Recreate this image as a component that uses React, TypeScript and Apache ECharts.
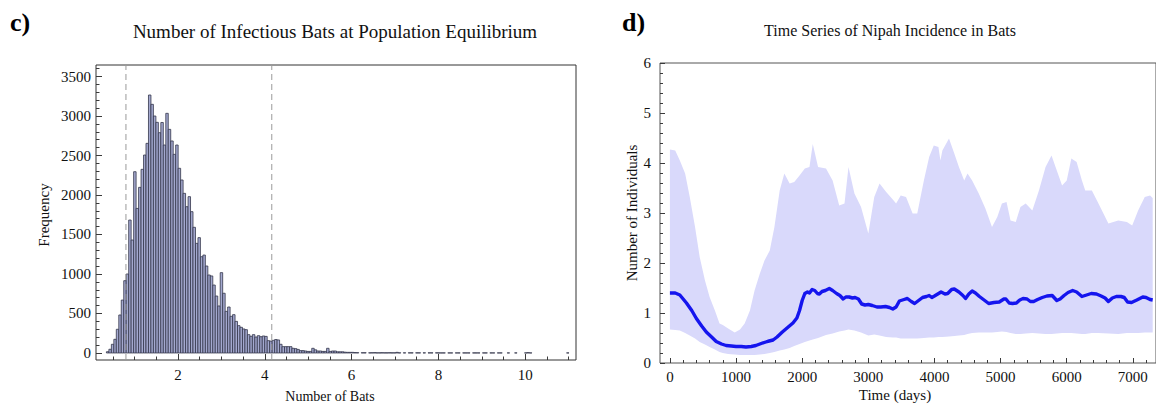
import React, { useEffect, useRef } from "react";
import * as echarts from "echarts";

// ---------- Panel c) histogram ----------
const histStart = 0.35;
const histBinWidth = 0.057;
const histCounts = [
  16, 47, 110, 173, 300, 481, 670, 915, 1000, 1683, 1430, 2295, 1830, 2097, 2325, 2506, 2654, 3266, 3148, 3000,
  2920, 2789, 2918, 2633, 3034, 2831, 2684, 2515, 2633, 2338, 2190, 2021, 1852, 1979, 1789, 1591, 1388, 1460, 1219, 1240,
  1101, 987, 975, 860, 721, 595, 1017, 756, 527, 582, 464, 485, 400, 346, 325, 304, 295, 232, 211, 232,
  202, 219, 206, 215, 210, 156, 150, 160, 170, 165, 110, 80, 80, 80, 80, 59, 55, 45, 30, 30,
  25, 20, 20, 59, 40, 25, 25, 20, 20, 59, 20, 25, 25, 15, 15, 15, 10, 8, 8, 8,
  5, 4, 0, 3, 3, 0, 2, 3, 4, 2, 2, 3, 2, 2, 3, 2, 2, 8, 2, 0,
  2, 0, 2, 2, 0, 2, 2, 0, 2, 0, 2, 2, 0, 2, 1, 1, 1, 0, 1, 1,
  0, 1, 1, 0, 1, 1, 1, 0, 1, 1, 1, 0, 1, 1, 0, 1, 1, 0, 1, 1,
  0, 0, 1, 0, 0, 1, 0, 0, 0, 1, 4, 1, 0, 0, 0, 0, 0, 0, 0, 0,
  0, 0, 0, 0, 0, 0, 1,
];
const cutoffLines = [0.8, 4.16];
const histXMajor = [2, 4, 6, 8, 10];
const histXMinor = [0.5, 1, 1.5, 2.5, 3, 3.5, 4.5, 5, 5.5, 6.5, 7, 7.5, 8.5, 9, 9.5, 10.5, 11];
const histYMajor = [0, 500, 1000, 1500, 2000, 2500, 3000, 3500];
const histYMinor = [
  100, 200, 300, 400, 600, 700, 800, 900, 1100, 1200, 1300, 1400, 1600, 1700, 1800, 1900, 2100, 2200, 2300, 2400,
  2600, 2700, 2800, 2900, 3100, 3200, 3300, 3400, 3600,
];

// ---------- Panel d) time series ----------
const bandDays = [
  0, 80, 150, 230, 300, 380, 450, 530, 600, 680, 750, 800, 880, 980, 1060, 1130, 1210, 1280, 1360, 1430,
  1510, 1580, 1660, 1730, 1810, 1880, 1960, 2040, 2110, 2160, 2240, 2360, 2460, 2560, 2640, 2700, 2790, 2890, 3000, 3090,
  3170, 3270, 3370, 3420, 3490, 3570, 3670, 3740, 3840, 3920, 3990, 4060, 4090, 4120, 4220, 4300, 4370, 4450, 4500, 4570,
  4670, 4770, 4870, 4950, 5020, 5090, 5150, 5230, 5300, 5380, 5480, 5580, 5680, 5770, 5850, 5930, 6000, 6070, 6150, 6230,
  6280, 6380, 6480, 6630, 6780, 6910, 6990, 7080, 7180, 7260, 7300,
];
const bandUpper = [
  4.27, 4.25, 4.05, 3.79, 3.32, 2.72, 2.12, 1.65, 1.32, 1.05, 0.79, 0.76, 0.69, 0.61, 0.67, 0.79, 1.05, 1.45, 1.79, 2.05,
  2.25, 2.72, 3.45, 3.79, 3.59, 3.62, 3.75, 3.89, 3.92, 4.38, 3.92, 3.89, 3.65, 3.15, 3.19, 3.92, 3.39, 3.12, 2.59, 3.32,
  3.59, 3.42, 3.27, 3.19, 3.35, 3.32, 2.99, 2.99, 3.65, 4.12, 4.35, 4.32, 4.05, 4.25, 4.49, 4.19, 3.92, 3.65, 3.79, 3.65,
  3.39, 3.09, 2.72, 2.92, 3.19, 3.22, 2.85, 2.82, 3.12, 3.19, 3.05, 3.45, 3.92, 4.15, 3.85, 3.55, 3.65, 4.09, 4.02, 3.65,
  3.45, 3.45, 3.19, 2.79, 2.85, 2.82, 2.75, 3.05, 3.32, 3.35, 3.3,
];
const bandLower = [
  0.67, 0.66, 0.65, 0.6, 0.55, 0.49, 0.42, 0.37, 0.32, 0.27, 0.22, 0.2, 0.18, 0.17, 0.16, 0.16, 0.16, 0.16, 0.17, 0.18,
  0.2, 0.22, 0.25, 0.27, 0.3, 0.34, 0.38, 0.42, 0.45, 0.47, 0.5, 0.56, 0.59, 0.63, 0.65, 0.67, 0.65, 0.61, 0.55, 0.57,
  0.55, 0.52, 0.51, 0.51, 0.49, 0.49, 0.49, 0.49, 0.5, 0.51, 0.51, 0.52, 0.52, 0.52, 0.53, 0.54, 0.55, 0.56, 0.58, 0.6,
  0.61, 0.61, 0.61, 0.62, 0.63, 0.62, 0.6, 0.58, 0.58, 0.59, 0.6, 0.59, 0.58, 0.58, 0.59, 0.6, 0.6, 0.6, 0.59, 0.58,
  0.58, 0.6, 0.6, 0.59, 0.58, 0.6, 0.6, 0.6, 0.61, 0.61, 0.61,
];
const meanDays = [
  0, 80, 150, 250, 330, 400, 480, 550, 630, 700, 780, 850, 930, 1000, 1080, 1150, 1230, 1300, 1380, 1450,
  1500, 1560, 1620, 1700, 1780, 1860, 1920, 1960, 2000, 2040, 2080, 2110, 2150, 2190, 2230, 2260, 2300, 2350, 2410, 2460,
  2520, 2570, 2620, 2660, 2710, 2760, 2800, 2850, 2900, 2950, 3000, 3060, 3130, 3190, 3260, 3320, 3370, 3420, 3470, 3540,
  3590, 3650, 3700, 3760, 3820, 3880, 3920, 3960, 4000, 4050, 4100, 4160, 4200, 4260, 4300, 4370, 4430, 4470, 4520, 4570,
  4620, 4680, 4750, 4820, 4900, 4980, 5050, 5080, 5130, 5180, 5240, 5290, 5340, 5400, 5450, 5500, 5560, 5630, 5700, 5780,
  5850, 5900, 5960, 6020, 6090, 6150, 6230, 6300, 6370, 6450, 6520, 6580, 6630, 6690, 6750, 6820, 6870, 6920, 6980, 7060,
  7150, 7200, 7260, 7300,
];
const meanValues = [
  1.4, 1.4, 1.36, 1.2, 1.05, 0.89, 0.74, 0.62, 0.52, 0.43, 0.38, 0.35, 0.34, 0.33, 0.33, 0.32, 0.33, 0.35, 0.39, 0.42,
  0.44, 0.46, 0.52, 0.62, 0.71, 0.8, 0.9, 1.05, 1.25, 1.39, 1.42, 1.4, 1.47, 1.45, 1.39, 1.38, 1.43, 1.45, 1.49, 1.45,
  1.39, 1.35, 1.28, 1.32, 1.32, 1.3, 1.31, 1.28, 1.18, 1.16, 1.17, 1.15, 1.12, 1.12, 1.13, 1.11, 1.08, 1.12, 1.24, 1.27,
  1.29, 1.23, 1.19, 1.25, 1.31, 1.33, 1.35, 1.31, 1.34, 1.38, 1.42, 1.38, 1.39, 1.47, 1.48, 1.42, 1.35, 1.29, 1.38, 1.44,
  1.4, 1.33, 1.26, 1.19, 1.21, 1.22, 1.28, 1.28, 1.2, 1.19, 1.2, 1.26, 1.29, 1.28, 1.23, 1.23, 1.27, 1.31, 1.34, 1.35,
  1.25, 1.28, 1.35, 1.41, 1.45, 1.42, 1.33, 1.36, 1.39, 1.38, 1.34, 1.3, 1.23, 1.3, 1.33, 1.33, 1.31, 1.22, 1.21, 1.26,
  1.32, 1.31, 1.27, 1.26,
];
const tsXMajor = [0, 1000, 2000, 3000, 4000, 5000, 6000, 7000];
const tsXMinor = [
  200, 400, 600, 800, 1200, 1400, 1600, 1800, 2200, 2400, 2600, 2800, 3200, 3400, 3600, 3800, 4200, 4400, 4600, 4800,
  5200, 5400, 5600, 5800, 6200, 6400, 6600, 6800, 7200,
];
const tsYMajor = [0, 1, 2, 3, 4, 5, 6];
const tsYMinor = [
  0.2, 0.4, 0.6, 0.8, 1.2, 1.4, 1.6, 1.8, 2.2, 2.4, 2.6, 2.8, 3.2, 3.4, 3.6, 3.8, 4.2, 4.4, 4.6, 4.8, 5.2, 5.4, 5.6, 5.8,
];

const FONT = "'Liberation Serif', 'Times New Roman', serif";
const AXIS_COLOR = "#3a3a3a";
const plain = (v: number) => String(v);

function majorAxis(gridIndex: number, position: string, min: number, max: number, ticks: number[], fontSize: number, margin: number, tickLen: number) {
  return {
    type: "value",
    gridIndex,
    position,
    min,
    max,
    splitLine: { show: false },
    axisLine: { show: false, onZero: false },
    axisTick: { show: true, inside: true, length: tickLen, customValues: ticks, lineStyle: { color: AXIS_COLOR, width: 1 } },
    axisLabel: {
      show: true,
      customValues: ticks,
      margin,
      color: "#111",
      fontFamily: FONT,
      fontSize,
      formatter: plain,
    },
  };
}
function minorAxis(gridIndex: number, position: string, min: number, max: number, ticks: number[], tickLen: number) {
  return {
    type: "value",
    gridIndex,
    position,
    offset: 0,
    min,
    max,
    splitLine: { show: false },
    axisLine: { show: false, onZero: false },
    axisLabel: { show: false, customValues: ticks },
    axisTick: { show: true, inside: true, length: tickLen, customValues: ticks, lineStyle: { color: AXIS_COLOR, width: 1 } },
  };
}

export default function App() {
  const ref = useRef<HTMLDivElement>(null);
  useEffect(() => {
    if (!ref.current) return;
    const chart = echarts.init(ref.current, null, { renderer: "svg" });

    const histData = histCounts.map((c, i) => [histStart + i * histBinWidth, histStart + (i + 1) * histBinWidth, c]);
    const hYMin = -89;
    const hYMax = 3646;

    const bandData = bandDays.map((d, i) => [d, bandLower[i], bandUpper[i]]);
    const bandColor = "#d9d9fb";

    const text = (x: number, y: number, t: string, fontSize: number, extra: any = {}) => ({
      type: "text",
      x,
      y,
      ...extra,
      style: { text: t, fontFamily: FONT, fontSize, fill: "#111", align: "center", verticalAlign: "middle", ...(extra.style || {}) },
    });

    const option: any = {
      animation: false,
      backgroundColor: "#fff",
      grid: [
        { left: 96, top: 65, width: 480, height: 295, show: true, borderColor: "#333", borderWidth: 1, backgroundColor: "transparent" },
        { left: 660, top: 63, width: 498, height: 300, show: true, borderColor: "#555", borderWidth: 1, backgroundColor: "transparent" },
      ],
      xAxis: [
        majorAxis(0, "bottom", 0.11, 11.17, histXMajor, 15, 7, 6),
        minorAxis(0, "bottom", 0.11, 11.17, histXMinor, 3.5),
        majorAxis(1, "bottom", -150, 7350, tsXMajor, 15, 6, 5),
        minorAxis(1, "bottom", -150, 7350, tsXMinor, 3),
      ],
      yAxis: [
        majorAxis(0, "left", hYMin, hYMax, histYMajor, 15, 5, 6),
        minorAxis(0, "left", hYMin, hYMax, histYMinor, 3.5),
        majorAxis(1, "left", 0, 6, tsYMajor, 15, 9, 5),
        minorAxis(1, "left", 0, 6, tsYMinor, 3),
      ],
      series: [
        {
          type: "custom",
          xAxisIndex: 0,
          yAxisIndex: 0,
          clip: true,
          encode: { x: [0, 1], y: 2 },
          data: histData,
          renderItem: (params: any, api: any) => {
            const x0 = api.value(0);
            const x1 = api.value(1);
            const h = api.value(2);
            if (!h) return null;
            const p0 = api.coord([x0, 0]);
            const p1 = api.coord([x1, h]);
            return {
              type: "rect",
              shape: { x: p0[0], y: p1[1], width: p1[0] - p0[0], height: p0[1] - p1[1] },
              style: { fill: "#a4a9d0", stroke: "#34364a", lineWidth: 0.8 },
            };
          },
        },
        ...cutoffLines.map((v) => ({
          type: "line",
          xAxisIndex: 0,
          yAxisIndex: 0,
          symbol: "none",
          silent: true,
          data: [
            [v, hYMin],
            [v, hYMax],
          ],
          lineStyle: { color: "#9a9a9a", width: 1, type: [6, 4] },
        })),
        {
          type: "custom",
          xAxisIndex: 2,
          yAxisIndex: 2,
          clip: true,
          silent: true,
          encode: { x: 0, y: [1, 2] },
          data: bandData,
          renderItem: (params: any, api: any) => {
            if (params.dataIndex !== 0) return null;
            const upperPts = bandData.map((p) => api.coord([p[0], p[2]]));
            const lowerPts = bandData.map((p) => api.coord([p[0], p[1]])).reverse();
            return {
              type: "polygon",
              shape: { points: upperPts.concat(lowerPts) },
              style: { fill: bandColor, stroke: "none" },
            };
          },
        },
        {
          type: "line",
          xAxisIndex: 2,
          yAxisIndex: 2,
          symbol: "none",
          silent: true,
          data: meanDays.map((d, i) => [d, meanValues[i]]),
          lineStyle: { color: "#1515ee", width: 3.4, join: "round" },
          z: 5,
        },
      ],
      graphic: [
        text(10, 22, "c)", 26, { style: { fontWeight: "bold", align: "left", fill: "#000" } }),
        text(622, 22, "d)", 26, { style: { fontWeight: "bold", align: "left", fill: "#000" } }),
        text(335, 31, "Number of Infectious Bats at Population Equilibrium", 19),
        text(890, 30, "Time Series of Nipah Incidence in Bats", 16),
        text(44, 215, "Frequency", 15, { rotation: Math.PI / 2 }),
        text(330, 396, "Number of Bats", 14),
        text(632, 213, "Number of Individuals", 15, { rotation: Math.PI / 2 }),
        text(895, 395, "Time (days)", 15),
      ],
    };
    chart.setOption(option);
    return () => chart.dispose();
  }, []);
  return (
    <div
      ref={ref}
      style={{ position: "fixed", left: 0, top: 0, width: "1156px", height: "409px", background: "#fff" }}
    />
  );
}
